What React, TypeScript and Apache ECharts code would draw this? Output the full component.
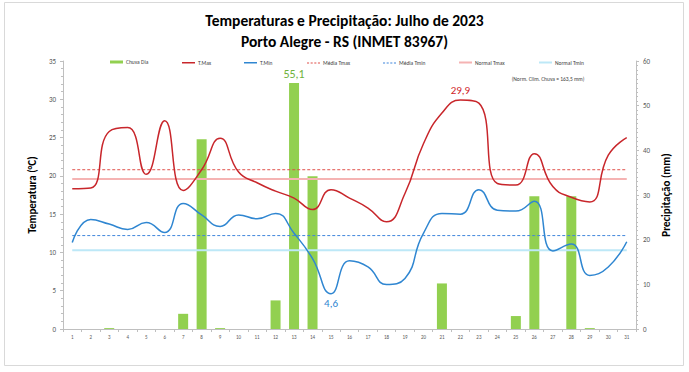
import React, { useEffect, useRef } from "react";
import * as echarts from "echarts";

const days = Array.from({ length: 31 }, (_, i) => String(i + 1));
const rain = [0, 0, 0.2, 0, 0, 0, 3.4, 42.5, 0.2, 0, 0, 6.4, 55.1, 34.2, 0, 0, 0, 0, 0, 0, 10.2, 0, 0, 0, 2.9, 29.7, 0, 29.7, 0.2, 0, 0];
const tmax = [18.3, 18.4, 25.8, 26.3, 20.2, 27.2, 18.1, 20.8, 24.9, 20.5, 19.1, 18.0, 17.1, 15.6, 18.2, 17.1, 15.8, 14.0, 17.7, 24.2, 28.2, 29.9, 29.5, 19.0, 18.8, 22.9, 18.6, 17.2, 16.6, 22.7, 25.0];
const tmin = [11.3, 14.3, 13.7, 13.0, 13.9, 12.6, 16.4, 14.9, 13.4, 14.9, 14.4, 15.1, 12.5, 9.2, 4.6, 8.9, 8.1, 5.8, 6.6, 12.5, 15.1, 15.0, 18.2, 15.5, 15.4, 16.7, 10.2, 11.1, 7.0, 8.1, 11.4];
const mediaTmax = 20.8;
const mediaTmin = 12.2;
const normalTmax = 19.6;
const normalTmin = 10.3;
const labelRainDay = 13;
const labelTmaxDay = 22;
const labelTminDay = 15;

const C_RAIN = "#92d050";
const C_TMAX = "#c8262b";
const C_TMIN = "#2f86d1";
const C_MTMAX = "#e0504a";
const C_MTMIN = "#3f86dc";
const C_NTMAX = "#f5b3b3";
const C_NTMIN = "#bde8f7";
const FONT = "Carlito, Calibri, 'Open Sans', sans-serif";

const ICON_SOLID = "path://M0,0H26V3H0Z";
const ICON_DASH = "path://M0,0H4V2H0Z M7,0H11V2H7Z M14,0H18V2H14Z M21,0H25V2H21Z";

export default function App() {
  const ref = useRef<HTMLDivElement>(null);
  useEffect(() => {
    document.body.style.margin = "0";
    const chart = echarts.init(ref.current!, null, { renderer: "svg" });
    const flat = (v: number) => days.map(() => v);
    const legendItems = [
      { name: "Chuva Dia", left: 110, icon: "rect", h: 3 },
      { name: "T.Max", left: 182, icon: ICON_SOLID, h: 1.5 },
      { name: "T.Min", left: 244, icon: ICON_SOLID, h: 1.5 },
      { name: "Média Tmax", left: 307, icon: ICON_DASH, h: 1 },
      { name: "Média Tmin", left: 383, icon: ICON_DASH, h: 1 },
      { name: "Normal Tmax", left: 459, icon: ICON_SOLID, h: 2 },
      { name: "Normal Tmin", left: 539, icon: ICON_SOLID, h: 2 },
    ];
    chart.setOption({
      animation: false,
      backgroundColor: "#fff",
      textStyle: { fontFamily: FONT },
      title: {
        text: "Temperaturas e Precipitação: Julho de 2023\nPorto Alegre - RS (INMET 83967)",
        left: "center",
        top: 5,
        textStyle: { fontFamily: FONT, fontWeight: "bold", fontSize: 15.5, color: "#000", lineHeight: 21 },
      },
      legend: legendItems.map((it) => ({
        data: [{ name: it.name, icon: it.icon }],
        left: it.left,
        top: 61 - it.h / 2 - 0.5,
        itemWidth: 13,
        itemHeight: it.h,
        itemGap: 2,
        symbolKeepAspect: false,
        textStyle: { fontSize: 5.5, color: "#404040", fontFamily: FONT, padding: [0, 0, 0, -2] },
        padding: 0,
      })),
      graphic: [
        {
          type: "rect",
          shape: { x: 4.5, y: 2.5, width: 679, height: 363 },
          style: { fill: "none", stroke: "#d9d9d9", lineWidth: 1 },
          silent: true,
        },
        {
          type: "text",
          x: 548,
          y: 79,
          style: {
            text: "(Norm. Clim. Chuva = 163,5 mm)",
            fontSize: 5.5,
            fill: "#404040",
            fontFamily: FONT,
            align: "center",
            verticalAlign: "middle",
          },
        },
      ],
      grid: { left: 63, right: 53, top: 61, bottom: 43 },
      xAxis: {
        type: "category",
        data: days,
        boundaryGap: true,
        axisLine: { lineStyle: { color: "#bfbfbf" } },
        axisTick: { show: true, alignWithLabel: false, length: 3, lineStyle: { color: "#bfbfbf" } },
        axisLabel: { fontSize: 5, color: "#595959", margin: 5, interval: 0 },
      },
      yAxis: [
        {
          type: "value",
          min: 0,
          max: 35,
          interval: 5,
          name: "Temperatura (°C)",
          nameLocation: "middle",
          nameRotate: 90,
          nameGap: 22,
          nameTextStyle: { fontSize: 11, fontWeight: "bold", color: "#000", fontFamily: FONT },
          axisLine: { show: true, lineStyle: { color: "#bfbfbf" } },
          axisTick: { show: true, length: 3, lineStyle: { color: "#bfbfbf" } },
          minorTick: { show: true, splitNumber: 5, length: 2, lineStyle: { color: "#bfbfbf" } },
          axisLabel: { fontSize: 7, color: "#595959", margin: 7 },
          splitLine: { show: false },
        },
        {
          type: "value",
          min: 0,
          max: 60,
          interval: 10,
          position: "right",
          name: "Precipitação (mm)",
          nameLocation: "middle",
          nameRotate: 90,
          nameGap: 22,
          nameTextStyle: { fontSize: 11, fontWeight: "bold", color: "#000", fontFamily: FONT },
          axisLine: { show: true, lineStyle: { color: "#bfbfbf" } },
          axisTick: { show: true, length: 3, lineStyle: { color: "#bfbfbf" } },
          minorTick: { show: true, splitNumber: 10, length: 2, lineStyle: { color: "#bfbfbf" } },
          axisLabel: { fontSize: 7, color: "#595959", margin: 7 },
          splitLine: { show: false },
        },
      ],
      series: [
        {
          name: "Chuva Dia",
          type: "bar",
          yAxisIndex: 1,
          barWidth: 10,
          itemStyle: { color: C_RAIN },
          data: rain.map((v, i) =>
            i + 1 === labelRainDay
              ? {
                  value: v,
                  label: {
                    show: true,
                    position: "top",
                    distance: 3,
                    formatter: String(v).replace(".", ","),
                    color: "#6fb23a",
                    fontSize: 12,
                    fontFamily: FONT,
                  },
                }
              : v
          ),
        },
        {
          name: "Normal Tmax",
          type: "line",
          symbol: "none",
          lineStyle: { color: C_NTMAX, width: 2 },
          itemStyle: { color: C_NTMAX },
          data: flat(normalTmax),
        },
        {
          name: "Normal Tmin",
          type: "line",
          symbol: "none",
          lineStyle: { color: C_NTMIN, width: 2 },
          itemStyle: { color: C_NTMIN },
          data: flat(normalTmin),
        },
        {
          name: "Média Tmax",
          type: "line",
          symbol: "none",
          lineStyle: { color: C_MTMAX, width: 1, type: [3, 2] },
          itemStyle: { color: C_MTMAX },
          data: flat(mediaTmax),
        },
        {
          name: "Média Tmin",
          type: "line",
          symbol: "none",
          lineStyle: { color: C_MTMIN, width: 1, type: [3, 2] },
          itemStyle: { color: C_MTMIN },
          data: flat(mediaTmin),
        },
        {
          name: "T.Max",
          type: "line",
          symbol: "none",
          smooth: 0.5,
          lineStyle: { color: C_TMAX, width: 1.5 },
          itemStyle: { color: C_TMAX },
          data: tmax.map((v, i) =>
            i + 1 === labelTmaxDay
              ? {
                  value: v,
                  symbol: "circle",
                  symbolSize: 0.1,
                  label: {
                    show: true,
                    position: "top",
                    distance: 4,
                    formatter: String(v).replace(".", ","),
                    color: "#d0262b",
                    fontSize: 11,
                    fontFamily: FONT,
                  },
                }
              : v
          ),
        },
        {
          name: "T.Min",
          type: "line",
          symbol: "none",
          smooth: 0.5,
          lineStyle: { color: C_TMIN, width: 1.5 },
          itemStyle: { color: C_TMIN },
          data: tmin.map((v, i) =>
            i + 1 === labelTminDay
              ? {
                  value: v,
                  symbol: "circle",
                  symbolSize: 0.1,
                  label: {
                    show: true,
                    position: "bottom",
                    distance: 4,
                    formatter: String(v).replace(".", ","),
                    color: C_TMIN,
                    fontSize: 11,
                    fontFamily: FONT,
                  },
                }
              : v
          ),
        },
      ],
    });
    return () => chart.dispose();
  }, []);
  return <div ref={ref} style={{ position: "fixed", left: 0, top: 0, width: 689, height: 372 }} />;
}
